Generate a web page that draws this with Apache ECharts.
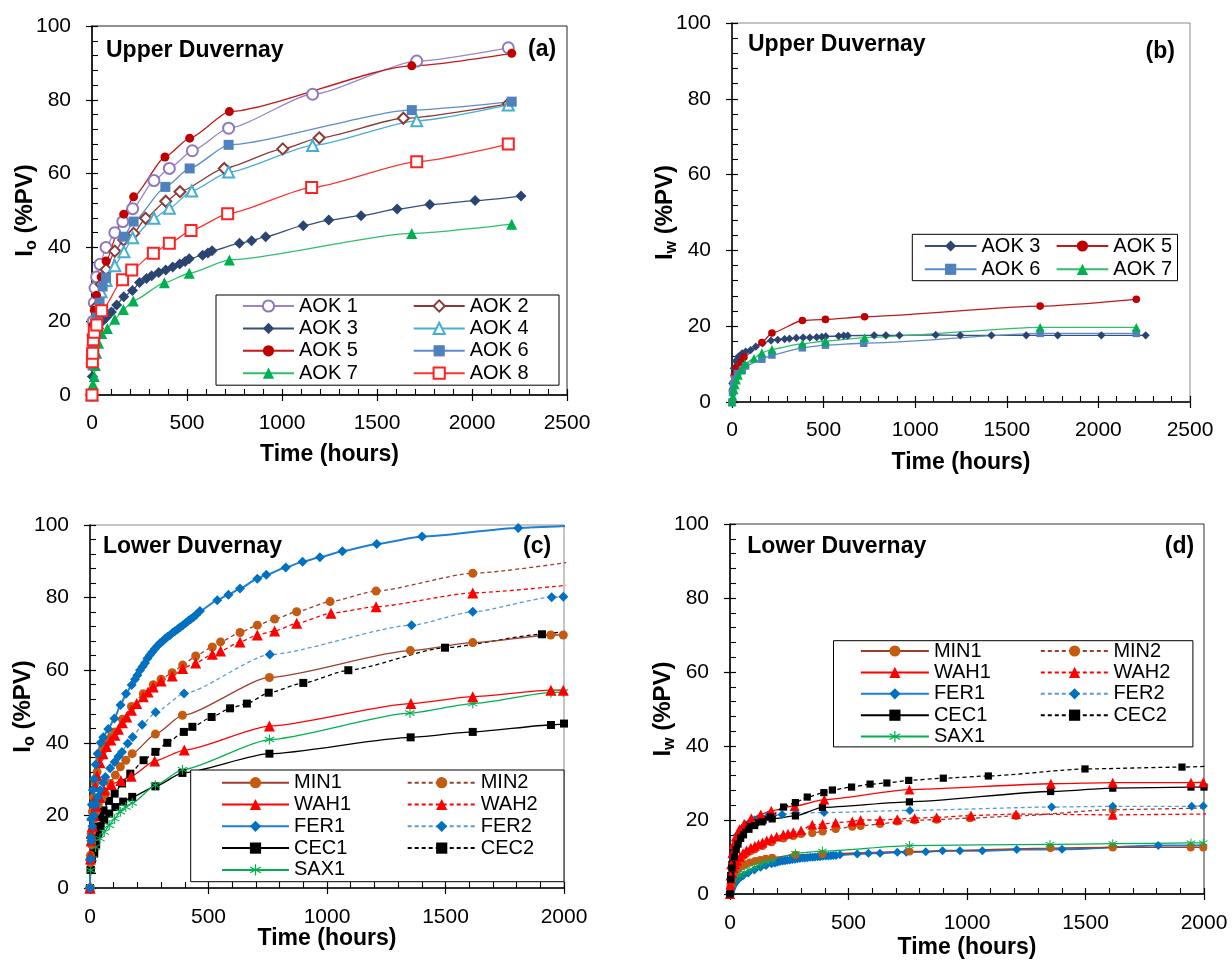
<!DOCTYPE html>
<html>
<head>
<meta charset="utf-8">
<script src="https://cdn.jsdelivr.net/npm/echarts@6/dist/echarts.min.js"></script>
<style>
html, body { margin: 0; padding: 0; background: #fff; }
#chart { width: 1232px; height: 961px; }
</style>
</head>
<body>
<div id="chart"></div>
<script>
// ---- data: [time (hours), value (%PV)] ----
// (a) Upper Duvernay, Io
const aok1Io = [[0,0],[3,12],[7,20],[12,25],[16,29],[24,32],[42,35.4],[74,40],[120,44],[162,47],[214,50.5],[326,58.1],[407,61.4],[528,66.2],[719,72.3],[1161,81.5],[1709,90.5],[2191,94.1]]
const aok2Io = [[0,0],[3,11],[7,16],[12,19],[24,24],[48,30],[74,34],[120,39],[167,42],[219,43.8],[282,47.9],[388,52.5],[463,55.1],[696,61.4],[1004,66.7],[1196,69.7],[1639,75],[2191,78.9]]
const aok3Io = [[0,0],[2,5],[5,9],[10,12.5],[20,15.5],[35,18],[55,20],[75,21],[102,22.5],[130,24.4],[167,26.6],[213,28.3],[250,30.5],[287,31.6],[314,32.3],[351,33.2],[388,33.9],[425,34.7],[462,35.5],[490,36.2],[512,36.9],[582,37.9],[610,38.5],[632,39.1],[776,41.1],[840,41.8],[914,42.9],[1112,45.9],[1246,47.4],[1416,48.6],[1606,50.4],[1778,51.6],[2016,52.7],[2258,53.9]]
const aok4Io = [[0,0],[3,10],[7,15],[12,18],[24,22],[48,28],[74,31],[120,35],[168,38.8],[214,42.6],[326,47.9],[407,50.6],[525,55.3],[719,60.4],[1161,67.6],[1709,74.3],[2191,78.6]]
const aok5Io = [[0,0],[3,13],[7,19],[12,23],[24,27],[48,32],[74,36.3],[167,49],[219,53.7],[384,64.5],[514,69.6],[723,76.8],[1683,89.2],[2209,92.6]]
const aok6Io = [[0,0],[3,8],[7,12],[12,16],[24,21],[40,25],[56,29.4],[74,31.8],[167,42.9],[219,47],[386,56.4],[514,61.4],[719,67.8],[1683,77.2],[2209,79.5]]
const aok7Io = [[0,0],[5,3],[12,5],[18,8],[25,11.3],[35,14],[51,16.7],[81,18],[120,20.5],[165,23.2],[217,25.5],[381,30.4],[512,33],[723,36.6],[1683,43.8],[2209,46.3]]
const aok8Io = [[0,0],[2,9],[4,11.3],[7,15],[12,17],[25,19],[51,22.8],[161,31.2],[209,33.9],[323,38.4],[407,41.1],[521,44.6],[714,49.1],[1156,56.2],[1709,63.2],[2191,68]]

// (b) Upper Duvernay, Iw
const aok3Iw = [[0,0],[2,4.9],[10,8.9],[20,10.8],[35,12],[55,12.8],[75,13.3],[102,13.7],[130,14.6],[167,15.5],[213,16.2],[250,16.4],[287,16.6],[314,16.7],[351,16.9],[388,17],[425,17],[462,17.1],[490,17.2],[512,17.3],[582,17.4],[610,17.5],[632,17.5],[776,17.6],[840,17.6],[914,17.6],[1112,17.7],[1246,17.6],[1416,17.6],[1606,17.6],[1778,17.6],[2016,17.6],[2258,17.6]]
const aok5Iw = [[0,0],[3,3],[7,5],[12,7],[24,9],[48,10.5],[65,11.8],[163,15.7],[218,18.2],[384,21.5],[510,21.8],[724,22.5],[1682,25.3],[2207,27.1]]
const aok6Iw = [[0,0],[3,2.5],[8,4.5],[15,6],[30,7.5],[56,8.4],[74,9.5],[163,11.3],[218,12.4],[384,14.3],[510,15],[719,15.5],[1682,18.1],[2207,18.1]]
const aok7Iw = [[0,0],[5,1.5],[12,3.2],[18,4.5],[25,5.8],[35,7],[51,8.4],[71,10.1],[120,11.5],[163,13],[218,13.9],[384,15.4],[510,16.1],[724,17],[1682,19.7],[2207,19.7]]

// (c) Lower Duvernay, Io
const min1Io = [[0,0],[2,7],[5,12],[10,16],[16,19],[25,21],[35,23],[50,24.5],[65,26],[85,28.8],[107,31.1],[128,33.4],[151,35.2],[178,37],[276,42.4],[390,47.6],[757,58],[1352,65.4],[1615,67.6],[1944,69.7],[1997,69.7]]
const min2Io = [[0,0],[2,9],[5,15],[10,21],[15,25],[22,29],[30,32],[42,36],[55,38],[70,40],[88,41.5],[105,43],[137,46.5],[175,50],[225,53.5],[267,56],[300,57.5],[347,59.3],[391,61.4],[446,63.9],[516,66.4],[551,67.8],[633,70.4],[706,72.4],[779,74.1],[872,76.1],[1013,78.9],[1207,81.8],[1615,86.7],[2100,90.5]]
const wah1Io = [[0,0],[2,8],[5,13],[10,17],[16,20],[25,22.5],[40,25],[60,27],[90,28.5],[130,29.6],[174,30.8],[273,35],[398,38],[757,44.6],[1354,50.8],[1615,52.7],[1945,54.5],[1997,54.5]]
const wah2Io = [[0,0],[2,9],[5,15],[10,20],[15,24],[22,28],[30,31],[42,34.5],[55,37],[70,39],[88,40.8],[105,42.1],[120,43.7],[137,45.5],[155,47.1],[175,49],[197,50.8],[225,52.7],[245,54],[267,55.4],[300,57],[347,58.4],[391,60.5],[446,62],[516,64.4],[551,65.3],[633,67.8],[706,69.7],[779,70.8],[872,72.9],[1017,75.7],[1207,77.5],[1615,81.3],[2100,84]]
const fer1Io = [[0,0],[1,8],[3,14],[5,19],[8,23],[12,27],[17,30],[24,34],[32,37],[45,40],[56,41.5],[77,43.8],[103,46.7],[129,50.4],[152,53.5],[176,55.9],[190,57.5],[200,58.6],[211,60],[222,61],[232,62],[242,63.2],[253,64.2],[263,65],[274,65.9],[284,66.7],[295,67.4],[306,68],[316,68.6],[327,69.2],[338,69.7],[349,70.3],[359,70.8],[370,71.3],[380,71.8],[392,72.4],[404,73],[415,73.6],[426,74.1],[436,74.6],[447,75.2],[464,76.3],[537,79.3],[584,80.8],[633,82.5],[706,85.2],[744,86.3],[826,88.3],[897,89.9],[970,91.1],[1065,92.8],[1210,94.8],[1401,96.8],[1807,99.2],[2150,100.2]]
const fer2Io = [[0,0],[2,8],[5,13],[10,17],[16,20],[24,23],[32,25],[42,26.9],[55,29],[65,30.6],[85,33],[104,34.7],[120,36.2],[135,37.5],[159,39.8],[180,41.6],[220,45],[277,48.4],[397,53.6],[759,64.3],[1357,72.4],[1615,76.1],[1948,80.1],[1997,80.2]]
const cec1Io = [[0,0],[3,5],[8,8],[18,9.5],[26,12],[34,15],[45,17],[60,18.7],[81,20.5],[107,22.3],[140,23.8],[178,25.1],[276,28],[390,31.7],[757,37],[1353,41.5],[1615,43],[1945,44.9],[2000,45.3]]
const cec2Io = [[0,0],[3,5],[8,8.5],[18,11.3],[26,14.5],[34,16.8],[45,19.5],[57,21.4],[80,24],[104,26],[135,28.8],[170,31.5],[226,35.2],[276,37.5],[326,40],[396,43],[432,44.4],[513,47.1],[591,49.5],[662,50.8],[754,53.8],[900,56.5],[1090,60],[1498,66.2],[1907,69.9],[2050,71.2]]
const sax1Io = [[0,0],[3,4.9],[10,8.1],[23,11.3],[42,13.6],[60,15.4],[81,17.3],[104,19.1],[128,21],[151,22.3],[178,23.4],[276,28.3],[390,32.6],[757,40.9],[1350,48.2],[1615,50.8],[1945,53.8],[1997,54]]

// (d) Lower Duvernay, Iw
const min1Iw = [[0,0],[2,1.5],[5,2.8],[10,4],[16,5],[25,6],[35,6.8],[50,7.5],[65,8],[85,8.5],[107,8.9],[128,9.2],[151,9.5],[178,9.8],[276,10.6],[390,10.8],[757,11.5],[1352,12.4],[1615,12.6],[1944,12.6],[1997,12.6]]
const min2Iw = [[0,0],[2,2],[5,3.5],[10,5],[15,6.2],[22,7.3],[30,8.3],[42,9.3],[55,10.2],[70,11],[88,11.6],[105,12.1],[137,13],[175,14],[225,15],[267,15.7],[300,16.2],[347,16.5],[391,16.9],[446,17.6],[516,18.2],[551,18.4],[633,18.9],[706,19.6],[779,19.9],[872,20.1],[1013,20.5],[1207,21.1],[1615,22.8],[2100,23.4]]
const wah1Iw = [[0,0],[2,5],[5,8],[10,11],[16,13.5],[25,15.5],[40,17.5],[60,19],[90,20.5],[130,21.5],[174,22.5],[273,23.8],[398,25.5],[757,28.2],[1354,29.8],[1615,30.1],[1945,30.1],[1997,30.2]]
const wah2Iw = [[0,0],[2,2.5],[5,4],[10,5.5],[15,7],[22,8],[30,9],[42,10],[55,11],[70,11.8],[88,12.5],[105,13],[120,13.4],[137,13.9],[155,14.5],[175,15],[197,15.5],[225,16.1],[245,16.3],[267,16.7],[300,17.2],[347,18.7],[391,18.9],[446,19.3],[516,19.6],[551,20],[633,20],[706,20.2],[779,20.5],[872,20.7],[1017,21.2],[1207,21.6],[1615,21.4],[2100,21.7]]
const fer1Iw = [[0,0],[1,0.3],[3,0.7],[5,1.1],[8,1.5],[12,2],[17,2.6],[24,3.2],[32,3.8],[45,4.5],[56,5],[77,5.7],[103,6.5],[129,7.2],[152,7.7],[176,8.2],[190,8.4],[200,8.6],[211,8.8],[222,8.9],[232,9],[242,9.1],[253,9.2],[263,9.3],[274,9.4],[284,9.5],[295,9.6],[306,9.7],[316,9.75],[327,9.8],[338,9.9],[349,9.95],[359,10],[370,10.05],[380,10.1],[392,10.2],[404,10.25],[415,10.3],[426,10.35],[436,10.4],[447,10.4],[464,10.6],[537,10.8],[584,11],[633,11],[706,11.3],[744,11.3],[826,11.4],[897,11.7],[970,11.7],[1065,11.7],[1210,12],[1401,12.1],[1807,13.1],[2150,13.2]]
const fer2Iw = [[0,0],[2,4],[5,7],[10,10],[16,12.5],[24,14.5],[32,16],[42,17],[55,18],[65,18.7],[85,19.5],[104,20],[120,20.3],[135,20.6],[159,21],[180,21.2],[220,21.5],[277,21.9],[397,22],[759,22.6],[1357,23.5],[1615,23.7],[1948,23.7],[1997,23.8]]
const cec1Iw = [[0,0],[3,5],[8,8],[18,11],[26,13],[34,14.5],[45,16],[60,17.5],[81,18.5],[107,19.3],[140,20],[178,20.3],[276,21.1],[390,23.4],[757,24.9],[1353,27.7],[1615,28.6],[1945,28.9],[2000,28.9]]
const cec2Iw = [[0,0],[3,4],[8,7],[18,10],[26,12],[34,13.5],[45,15],[57,16],[80,17.5],[104,18.5],[135,19.5],[170,20.8],[226,23.5],[276,24.7],[326,26.2],[396,27.4],[432,28.1],[513,28.9],[591,29.7],[662,30],[754,30.7],[900,31.3],[1090,31.9],[1498,33.8],[1907,34.3],[2050,34.6]]
const sax1Iw = [[0,0],[3,1],[10,2.5],[23,4],[42,5],[60,5.8],[81,6.5],[104,7.3],[128,8],[151,8.6],[178,9.2],[276,11],[390,11.6],[757,13.1],[1350,13.4],[1615,13.6],[1945,13.8],[1997,13.8]]

const xTicksUpper = [0, 2500, 500]
const xTicksLower = [0, 2000, 500]
const yTicks = [0, 100, 20]

// ---- styles ----
const FONT = '"Liberation Sans", Arial, Helvetica, sans-serif'
const ASTER = 'path://M9,0L11,0L11,20L9,20Z M0.84,5.87L1.84,4.13L19.16,14.13L18.16,15.87Z M0.84,14.13L18.16,4.13L19.16,5.87L1.84,15.87Z'
const look = {
  'AOK 1': { color: '#8f78bd', line: '#9a86c6', symbol: 'emptyCircle', size: 11 },
  'AOK 2': { color: '#8b3a36', line: '#8b3a36', symbol: 'emptyDiamond', size: 11 },
  'AOK 3': { color: '#2b4570', line: '#34507c', symbol: 'diamond', size: 11 },
  'AOK 4': { color: '#45aed2', line: '#45aed2', symbol: 'emptyTriangle', size: 11 },
  'AOK 5': { color: '#c00000', line: '#c0181b', symbol: 'circle', size: 9 },
  'AOK 6': { color: '#4f81bd', line: '#5a8cc8', symbol: 'rect', size: 10 },
  'AOK 7': { color: '#00b050', line: '#2fbf6a', symbol: 'triangle', size: 11 },
  'AOK 8': { color: '#ff2020', line: '#ff3030', symbol: 'emptyRect', size: 11 },
  MIN1: { color: '#c55a11', line: '#9c3d2e', symbol: 'circle', size: 9 },
  MIN2: { color: '#c55a11', line: '#9c3d2e', symbol: 'circle', size: 9, dash: true },
  WAH1: { color: '#ff0000', line: '#ff0000', symbol: 'triangle', size: 11 },
  WAH2: { color: '#ff0000', line: '#ff0000', symbol: 'triangle', size: 11, dash: true },
  FER1: { color: '#0070c0', line: '#1f7fd0', symbol: 'diamond', size: 10, width: 2 },
  FER2: { color: '#0070c0', line: '#5b9bd5', symbol: 'diamond', size: 10, dash: true },
  CEC1: { color: '#000000', line: '#000000', symbol: 'rect', size: 8 },
  CEC2: { color: '#000000', line: '#000000', symbol: 'rect', size: 8, dash: true },
  SAX1: { color: '#00b050', line: '#00b050', symbol: ASTER, size: 10 }
}

const grids = [
  { left: 92, top: 26, width: 475, height: 369, border: '#222' },
  { left: 732, top: 23, width: 458, height: 379, border: '#888' },
  { left: 90, top: 525, width: 474, height: 363, border: '#888' },
  { left: 730, top: 524, width: 474, height: 370, border: '#333' }
]

const makeSeries = (name, data, panel, scale) => {
  const s = look[name]
  const empty = s.symbol.indexOf('empty') === 0
  return {
    name, type: 'line', data,
    xAxisIndex: panel * 2, yAxisIndex: panel * 2,
    smooth: 0.2, smoothMonotone: 'x',
    symbol: s.symbol, symbolSize: s.size * (scale || 1),
    lineStyle: { color: s.line, width: s.width || 1.3, type: s.dash ? [4, 3] : 'solid' },
    itemStyle: { color: s.color, borderColor: s.color, borderWidth: empty ? 1.3 : 0 },
    emphasis: { disabled: true },
    clip: true
  }
}

const series = [
  makeSeries('AOK 1', aok1Io, 0), makeSeries('AOK 2', aok2Io, 0), makeSeries('AOK 3', aok3Io, 0),
  makeSeries('AOK 4', aok4Io, 0), makeSeries('AOK 5', aok5Io, 0), makeSeries('AOK 6', aok6Io, 0),
  makeSeries('AOK 7', aok7Io, 0), makeSeries('AOK 8', aok8Io, 0),
  makeSeries('AOK 3', aok3Iw, 1, 0.75), makeSeries('AOK 5', aok5Iw, 1, 0.85),
  makeSeries('AOK 6', aok6Iw, 1, 0.75), makeSeries('AOK 7', aok7Iw, 1, 0.8),
  makeSeries('CEC1', cec1Io, 2), makeSeries('CEC2', cec2Io, 2), makeSeries('SAX1', sax1Io, 2),
  makeSeries('MIN1', min1Io, 2), makeSeries('MIN2', min2Io, 2), makeSeries('WAH1', wah1Io, 2),
  makeSeries('WAH2', wah2Io, 2), makeSeries('FER2', fer2Io, 2), makeSeries('FER1', fer1Io, 2),
  makeSeries('FER1', fer1Iw, 3, 0.9), makeSeries('MIN1', min1Iw, 3, 0.9), makeSeries('SAX1', sax1Iw, 3, 0.9),
  makeSeries('MIN2', min2Iw, 3, 0.9), makeSeries('WAH2', wah2Iw, 3, 0.9), makeSeries('FER2', fer2Iw, 3, 0.9),
  makeSeries('CEC1', cec1Iw, 3, 0.9), makeSeries('WAH1', wah1Iw, 3, 0.9), makeSeries('CEC2', cec2Iw, 3, 0.9)
]

// main axes: labels, inward major + minor ticks; overlay axes: outward major ticks
const xAxes = []
const yAxes = []
const xNameGap = [48, 49, 39, 42]
const xLabelMargin = [18, 17.5, 19, 19]
grids.forEach((g, i) => {
  const xt = i < 2 ? xTicksUpper : xTicksLower
  xAxes.push({
    gridIndex: i, type: 'value', position: 'bottom', min: xt[0], max: xt[1], interval: xt[2],
    name: 'Time (hours)', nameLocation: 'middle', nameGap: xNameGap[i], nameMoveOverlap: false,
    nameTextStyle: { fontSize: 23, fontWeight: 'bold', color: '#000', fontFamily: FONT },
    axisLine: { show: true, onZero: false, lineStyle: { color: '#000', width: 1.5 } },
    axisTick: { show: true, inside: true, length: 6, lineStyle: { color: '#000', width: 1.2 } },
    minorTick: { show: true, splitNumber: 5, length: 6, lineStyle: { color: '#000', width: 1.1 } },
    axisLabel: { fontSize: 21, color: '#000', margin: xLabelMargin[i], fontFamily: FONT, formatter: v => String(v) },
    splitLine: { show: false }
  })
  xAxes.push({
    gridIndex: i, type: 'value', position: 'bottom', min: xt[0], max: xt[1], interval: xt[2],
    axisLine: { show: false }, axisLabel: { show: false }, splitLine: { show: false },
    axisTick: { show: true, inside: false, length: 6, lineStyle: { color: '#000', width: 1.2 } }
  })
  const iSub = i % 2 === 0 ? 'o' : 'w'
  yAxes.push({
    gridIndex: i, type: 'value', position: 'left', min: yTicks[0], max: yTicks[1], interval: yTicks[2],
    name: '{i|I}{s|' + iSub + '}{n| (%PV)}', nameLocation: 'middle', nameGap: 52, nameMoveOverlap: false,
    nameTextStyle: {
      color: '#000', fontFamily: FONT,
      rich: {
        i: { fontSize: 24, fontWeight: 'bold', color: '#000', fontFamily: FONT, lineHeight: 30 },
        s: { fontSize: 16, fontWeight: 'bold', color: '#000', fontFamily: FONT, verticalAlign: 'bottom' },
        n: { fontSize: 24, fontWeight: 'bold', color: '#000', fontFamily: FONT }
      }
    },
    axisLine: { show: true, onZero: false, lineStyle: { color: '#000', width: 1.5 } },
    axisTick: { show: true, inside: true, length: 6, lineStyle: { color: '#000', width: 1.2 } },
    minorTick: { show: true, splitNumber: 5, length: 6, lineStyle: { color: '#000', width: 1.1 } },
    axisLabel: { fontSize: 21, color: '#000', margin: 21, fontFamily: FONT },
    splitLine: { show: false }
  })
  yAxes.push({
    gridIndex: i, type: 'value', position: 'left', min: yTicks[0], max: yTicks[1], interval: yTicks[2],
    axisLine: { show: false }, axisLabel: { show: false }, splitLine: { show: false },
    axisTick: { show: true, inside: false, length: 6, lineStyle: { color: '#000', width: 1.2 } }
  })
})

// legends: one boxed column + one plain column per panel
const legendCol = (data, left, top, opts) => ({
  data, orient: 'vertical', left, top,
  itemWidth: opts.iw, itemHeight: 14, itemGap: opts.gap,
  padding: opts.pad || 0,
  borderWidth: opts.pad ? 1 : 0, borderColor: '#000',
  backgroundColor: opts.pad ? '#fff' : 'transparent',
  selectedMode: false,
  textStyle: { fontSize: 20, color: '#000', fontFamily: FONT, lineHeight: 20, width: opts.tw }
})
const legends = [
  legendCol(['AOK 1', 'AOK 3', 'AOK 5', 'AOK 7'], 216, 295, { iw: 51, gap: 2.4, tw: 61, pad: [1, 199, 2, 26] }),
  legendCol(['AOK 2', 'AOK 4', 'AOK 6', 'AOK 8'], 412.7, 296, { iw: 51, gap: 2.4, tw: 61 }),
  legendCol(['AOK 3', 'AOK 6'], 912.3, 234.3, { iw: 51.7, gap: 3.3, tw: 61, pad: [1.7, 135, 1.4, 11.5] }),
  legendCol(['AOK 5', 'AOK 7'], 1055.6, 236, { iw: 51.7, gap: 3.3, tw: 61 }),
  legendCol(['MIN1', 'WAH1', 'FER1', 'CEC1', 'SAX1'], 190.7, 770, { iw: 67, gap: 1.8, tw: 60, pad: [2.7, 210, 1.8, 30.3] }),
  legendCol(['MIN2', 'WAH2', 'FER2', 'CEC2'], 406.7, 772.7, { iw: 68, gap: 1.8, tw: 60 }),
  legendCol(['MIN1', 'WAH1', 'FER1', 'CEC1', 'SAX1'], 833.5, 640.7, { iw: 68, gap: 1.4, tw: 60, pad: [0.3, 199, 0.3, 26.4] }),
  legendCol(['MIN2', 'WAH2', 'FER2', 'CEC2'], 1039.8, 641, { iw: 67.6, gap: 1.4, tw: 60 })
]

const label = (text, left, top) => ({
  text, left, top, padding: 0,
  textStyle: { fontSize: 23, fontWeight: 'bold', color: '#000', fontFamily: FONT }
})
const titles = [
  label('Upper Duvernay', 106, 39.5), label('(a)', 528, 38),
  label('Upper Duvernay', 748, 33.5), label('(b)', 1145.6, 40),
  label('Lower Duvernay', 103, 535), label('(c)', 523, 535),
  label('Lower Duvernay', 747.3, 535), label('(d)', 1164.8, 535)
]

const chart = echarts.init(document.getElementById('chart'))
chart.setOption({
  animation: false,
  backgroundColor: '#fff',
  textStyle: { fontFamily: FONT },
  title: titles,
  legend: legends,
  grid: grids.map(g => ({
    left: g.left, top: g.top, width: g.width, height: g.height,
    show: true, borderColor: g.border, borderWidth: 1, backgroundColor: 'transparent'
  })),
  xAxis: xAxes,
  yAxis: yAxes,
  series
})
</script>
</body>
</html>
